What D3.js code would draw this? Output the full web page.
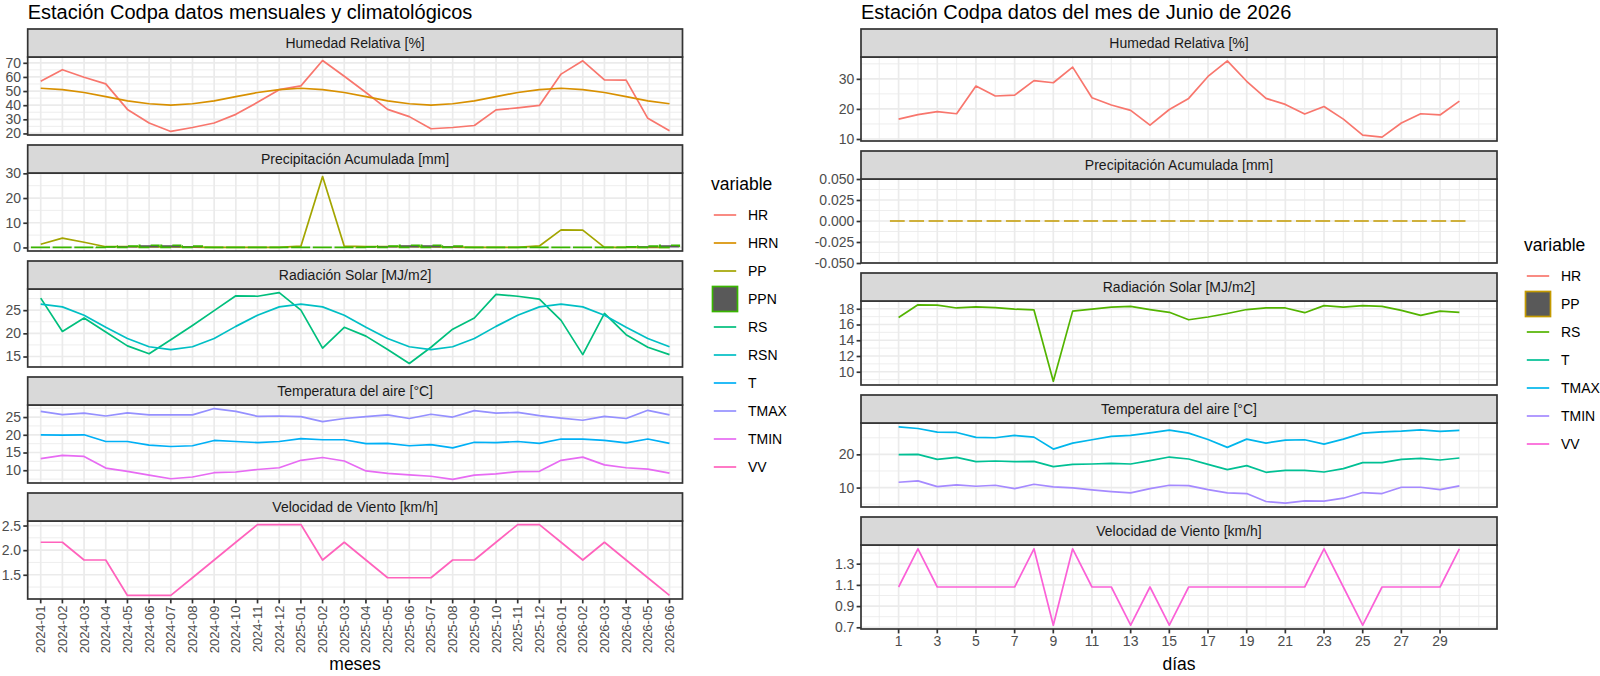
<!DOCTYPE html>
<html>
<head>
<meta charset="utf-8">
<script src="https://cdn.jsdelivr.net/npm/d3@7"></script>
<style>
  body { margin: 0; background: #fff; }
  svg { display: block; background: #fff; }
</style>
</head>
<body>
<svg id="chart" width="1600" height="676"></svg>
<script>
// ---- monthly data (left chart) ----
const meses = ["2024-01","2024-02","2024-03","2024-04","2024-05","2024-06","2024-07","2024-08","2024-09","2024-10","2024-11","2024-12",
               "2025-01","2025-02","2025-03","2025-04","2025-05","2025-06","2025-07","2025-08","2025-09","2025-10","2025-11","2025-12",
               "2026-01","2026-02","2026-03","2026-04","2026-05","2026-06"];
const hrMes   = [57, 65.1, 59.8, 55.1, 37, 27.4, 21.4, 24.2, 27.4, 33.5, 42, 51, 53.7, 71.6, 60.5, 49, 37, 31.9, 23.3, 24.2, 25.6, 36.7, 38.1, 39.8, 62, 71.4, 57.9, 57.7, 30.7, 21.9];
const hrnMes  = [52, 51, 49, 46, 43, 41, 40, 41, 43, 46, 49, 51, 52, 51, 49, 46, 43, 41, 40, 41, 43, 46, 49, 51, 52, 51, 49, 46, 43, 41];
const ppMes   = [1.3, 3.8, 2.1, 0.3, 0.3, 0.2, 0.2, 0.1, 0, 0, 0, 0, 0.5, 28.7, 0.5, 0.3, 0.3, 0.3, 0.2, 0.1, 0, 0, 0, 0.6, 7.1, 7.0, 0, 0, 0, 0];
const ppnMes  = [0, 0, 0, 0.2, 0.5, 0.9, 0.9, 0.5, 0, 0, 0, 0, 0, 0, 0, 0.2, 0.5, 0.9, 0.9, 0.5, 0, 0, 0, 0, 0, 0, 0, 0.2, 0.5, 0.9];
const rsMes   = [27.6, 20.4, 23.3, 20.3, 17.3, 15.6, 18.6, 21.7, 24.9, 28.1, 28.0, 28.8, 25.0, 16.8, 21.3, 19.4, 16.5, 13.5, 17.0, 20.9, 23.3, 28.4, 28.0, 27.4, 22.8, 15.4, 24.3, 19.7, 17.0, 15.4];
const rsnMes  = [26.3, 25.7, 23.9, 21.3, 18.9, 17.1, 16.5, 17.1, 18.9, 21.5, 23.9, 25.7, 26.3, 25.7, 23.9, 21.3, 18.9, 17.1, 16.5, 17.1, 18.9, 21.5, 23.9, 25.7, 26.3, 25.7, 23.9, 21.3, 18.9, 17.1];
const tMes    = [20.0, 19.9, 20.0, 18.1, 18.1, 17.1, 16.7, 16.9, 18.4, 18.1, 17.8, 18.1, 18.9, 18.6, 18.6, 17.5, 17.6, 16.9, 17.2, 16.3, 17.9, 17.8, 18.1, 17.6, 18.8, 18.8, 18.4, 17.7, 18.8, 17.6];
const tmaxMes = [26.6, 25.7, 26.1, 25.3, 26.2, 25.6, 25.6, 25.6, 27.4, 26.6, 25.2, 25.3, 25.1, 23.7, 24.6, 25.1, 25.6, 24.6, 25.8, 25.0, 26.8, 26.1, 26.3, 25.4, 24.7, 24.1, 25.2, 24.6, 26.9, 25.6];
const tminMes = [13.3, 14.2, 13.9, 10.6, 9.7, 8.6, 7.6, 8.1, 9.3, 9.5, 10.2, 10.7, 12.8, 13.6, 12.6, 9.8, 9.1, 8.7, 8.3, 7.4, 8.6, 9.0, 9.6, 9.7, 12.8, 13.7, 11.5, 10.7, 10.3, 9.2];
const vvMes   = [2.16, 2.16, 1.80, 1.80, 1.08, 1.08, 1.08, 1.44, 1.80, 2.16, 2.52, 2.52, 2.52, 1.80, 2.16, 1.80, 1.44, 1.44, 1.44, 1.80, 1.80, 2.16, 2.52, 2.52, 2.16, 1.80, 2.16, 1.80, 1.44, 1.08];

// ---- daily data, June 2026 (right chart) ----
const dias = [1,2,3,4,5,6,7,8,9,10,11,12,13,14,15,16,17,18,19,20,21,22,23,24,25,26,27,28,29,30];
const diasTicks = [1,3,5,7,9,11,13,15,17,19,21,23,25,27,29];
const hrDia   = [16.6, 18.1, 19.1, 18.4, 27.6, 24.3, 24.6, 29.4, 28.7, 33.9, 23.7, 21.3, 19.5, 14.6, 19.8, 23.5, 30.8, 36.0, 29.2, 23.5, 21.5, 18.3, 20.8, 16.6, 11.3, 10.6, 15.3, 18.4, 18.0, 22.6];
const ppDia   = [0,0,0,0,0,0,0,0,0,0,0,0,0,0,0,0,0,0,0,0,0,0,0,0,0,0,0,0,0,0];
const rsDia   = [16.9, 18.5, 18.45, 18.1, 18.25, 18.15, 17.95, 17.85, 8.8, 17.7, 17.95, 18.2, 18.3, 17.9, 17.55, 16.6, 16.95, 17.4, 17.9, 18.1, 18.1, 17.5, 18.4, 18.2, 18.4, 18.3, 17.8, 17.15, 17.7, 17.55];
const tDia    = [19.9, 20.0, 18.5, 19.1, 17.8, 18.0, 17.8, 17.9, 16.3, 17.0, 17.1, 17.3, 17.1, 18.1, 19.2, 18.6, 17.0, 15.4, 16.6, 14.6, 15.2, 15.2, 14.7, 15.7, 17.5, 17.5, 18.5, 18.8, 18.3, 18.9];
const tmaxDia = [28.3, 27.8, 26.7, 26.6, 25.1, 25.0, 25.7, 25.2, 21.6, 23.4, 24.4, 25.4, 25.7, 26.5, 27.3, 26.4, 24.5, 22.1, 24.6, 23.4, 24.3, 24.4, 23.1, 24.6, 26.4, 26.8, 27.0, 27.4, 26.9, 27.2];
const tminDia = [11.6, 12.0, 10.3, 10.8, 10.4, 10.7, 9.7, 11.0, 10.2, 9.9, 9.3, 8.8, 8.4, 9.7, 10.7, 10.6, 9.4, 8.4, 8.2, 5.8, 5.3, 6.0, 5.9, 6.8, 8.5, 8.2, 10.1, 10.1, 9.4, 10.5];
const vvDia   = [1.08, 1.44, 1.08, 1.08, 1.08, 1.08, 1.08, 1.44, 0.72, 1.44, 1.08, 1.08, 0.72, 1.08, 0.72, 1.08, 1.08, 1.08, 1.08, 1.08, 1.08, 1.08, 1.44, 1.08, 0.72, 1.08, 1.08, 1.08, 1.08, 1.44];

// variable names per chart (ggplot hue palette)
const varsMes = ["HR","HRN","PP","PPN","RS","RSN","T","TMAX","TMIN","VV"];
const varsDia = ["HR","PP","RS","T","TMAX","TMIN","VV"];
const colMes = d3.scaleOrdinal().domain(varsMes)
  .range(["#F8766D","#D89000","#A3A500","#39B600","#00BF7D","#00BFC4","#00B0F6","#9590FF","#E76BF3","#FF62BC"]);
const colDia = d3.scaleOrdinal().domain(varsDia)
  .range(["#F8766D","#C49A00","#53B400","#00C094","#00B6EB","#A58AFF","#FB61D7"]);

// ---- look ----
const FONT = "'Liberation Sans', Arial, Helvetica, sans-serif";
const GRID = "#EBEBEB", DARK = "#333333", AXTXT = "#4D4D4D", STRIPFILL = "#D9D9D9";
const LW = 1.7;
const STRIP_H = 28, GAP = 10, TICK = 4.4;

// ggplot prints a plain hyphen for negatives
const fmt = d3.formatLocale({decimal: ".", thousands: ",", grouping: [3], currency: ["", ""], minus: "-"}).format;

const svg = d3.select("#chart").attr("font-family", FONT);

// 5% expansion like ggplot continuous scales
function padDomain(vals) {
  const [lo, hi] = d3.extent(vals);
  if (hi === lo) return [lo - 0.05, hi + 0.05];
  const r = hi - lo;
  return [lo - r * 0.05, hi + r * 0.05];
}

// draws one facet (strip + panel) and returns the panel bottom
function facet(spec) {
  const py0 = spec.top + STRIP_H, py1 = py0 + spec.ph;
  const [px0, px1] = spec.x.range();
  let allVals = [];
  spec.lines.forEach(s => { allVals = allVals.concat(s.values); });
  if (spec.bars) allVals = allVals.concat(spec.bars.values, [0]);
  const y = d3.scaleLinear().domain(spec.yDomain || padDomain(allVals)).range([py1, py0]);
  const dom = y.domain();
  const g = svg.append("g");

  // minor y grid at midpoints between breaks
  const st = spec.yTicks[1] - spec.yTicks[0];
  const minorY = [];
  for (let v = spec.yTicks[0] - st / 2; v < dom[1]; v += st) if (v > dom[0]) minorY.push(v);
  g.selectAll(".ymin").data(minorY).join("line")
    .attr("x1", px0).attr("x2", px1).attr("y1", d => y(d)).attr("y2", d => y(d))
    .attr("stroke", GRID).attr("stroke-width", LW / 2);
  g.selectAll(".xmin").data(spec.xMinor || []).join("line")
    .attr("x1", d => spec.xpos(d)).attr("x2", d => spec.xpos(d)).attr("y1", py0).attr("y2", py1)
    .attr("stroke", GRID).attr("stroke-width", LW / 2);
  g.selectAll(".ymaj").data(spec.yTicks).join("line")
    .attr("x1", px0).attr("x2", px1).attr("y1", d => y(d)).attr("y2", d => y(d))
    .attr("stroke", GRID).attr("stroke-width", LW);
  g.selectAll(".xmaj").data(spec.xMajor).join("line")
    .attr("x1", d => spec.xpos(d)).attr("x2", d => spec.xpos(d)).attr("y1", py0).attr("y2", py1)
    .attr("stroke", GRID).attr("stroke-width", LW);

  // lines
  spec.lines.forEach(s => {
    const line = d3.line().x((d, i) => spec.xpos(spec.cats[i])).y(d => y(d));
    g.append("path").attr("d", line(s.values))
      .attr("fill", "none").attr("stroke", s.color).attr("stroke-width", LW)
      .attr("stroke-linejoin", "round");
  });

  // columns with dashed outline (geom_col, linetype dashed)
  if (spec.bars) {
    const b = spec.bars;
    g.selectAll(".bar").data(b.values).join("path")
      .attr("d", (d, i) => {
        const xc = spec.xpos(spec.cats[i]);
        const xa = xc - b.half, xb = xc + b.half;
        return `M${xa},${y(0)}H${xb}V${y(d)}H${xa}Z`;
      })
      .attr("fill", "#595959").attr("stroke", b.color).attr("stroke-width", LW)
      .attr("stroke-dasharray", "10,10");
  }

  // panel border
  g.append("rect").attr("x", px0).attr("y", py0).attr("width", px1 - px0).attr("height", py1 - py0)
    .attr("fill", "none").attr("stroke", DARK).attr("stroke-width", LW);
  // strip
  g.append("rect").attr("x", px0).attr("y", spec.top).attr("width", px1 - px0).attr("height", STRIP_H)
    .attr("fill", STRIPFILL).attr("stroke", DARK).attr("stroke-width", LW);
  g.append("text").attr("x", (px0 + px1) / 2).attr("y", spec.top + STRIP_H / 2)
    .attr("text-anchor", "middle").attr("dominant-baseline", "central")
    .attr("font-size", 14).attr("fill", "#1A1A1A").text(spec.label);

  // y axis
  const ax = g.append("g").attr("transform", `translate(${px0},0)`)
    .call(d3.axisLeft(y).tickValues(spec.yTicks).tickSize(TICK).tickPadding(2.2).tickFormat(fmt(spec.yFmt)));
  ax.attr("font-family", null).attr("font-size", null);
  ax.select(".domain").remove();
  ax.selectAll("line").attr("stroke", DARK).attr("stroke-width", LW);
  ax.selectAll("text").attr("fill", AXTXT).attr("font-size", 14);
  return py1;
}

// ---------------- left chart: monthly ----------------
const L = {x0: 27.7, x1: 682.5, top: 29, ph: 78};
const xM = d3.scalePoint().domain(meses).range([L.x0, L.x1]).padding(0.6);
const stepM = xM.step();

const leftFacets = [
  {label: "Humedad Relativa [%]", lines: [{values: hrMes, color: colMes("HR")}, {values: hrnMes, color: colMes("HRN")}],
   yTicks: [20, 30, 40, 50, 60, 70], yFmt: "d"},
  {label: "Precipitación Acumulada [mm]", lines: [{values: ppMes, color: colMes("PP")}],
   bars: {values: ppnMes, color: colMes("PPN"), half: stepM * 0.45},
   yTicks: [0, 10, 20, 30], yFmt: "d"},
  {label: "Radiación Solar [MJ/m2]", lines: [{values: rsMes, color: colMes("RS")}, {values: rsnMes, color: colMes("RSN")}],
   yTicks: [15, 20, 25], yFmt: "d"},
  {label: "Temperatura del aire [°C]", lines: [{values: tMes, color: colMes("T")}, {values: tmaxMes, color: colMes("TMAX")}, {values: tminMes, color: colMes("TMIN")}],
   yTicks: [10, 15, 20, 25], yFmt: "d"},
  {label: "Velocidad de Viento [km/h]", lines: [{values: vvMes, color: colMes("VV")}],
   yTicks: [1.5, 2.0, 2.5], yFmt: ".1f"}
];
let bottomL = 0;
leftFacets.forEach((f, k) => {
  bottomL = facet(Object.assign({}, f, {
    top: L.top + k * (STRIP_H + L.ph + GAP), ph: L.ph, x: xM, xpos: d => xM(d),
    cats: meses, xMajor: meses
  }));
});
// x axis (bottom facet only)
const axL = svg.append("g");
axL.selectAll("line").data(meses).join("line")
  .attr("x1", d => xM(d)).attr("x2", d => xM(d)).attr("y1", bottomL).attr("y2", bottomL + TICK)
  .attr("stroke", DARK).attr("stroke-width", LW);
axL.selectAll("text").data(meses).join("text")
  .attr("transform", d => `translate(${xM(d)},${bottomL + TICK + 2.2}) rotate(-90)`)
  .attr("text-anchor", "end").attr("dominant-baseline", "central")
  .attr("font-size", 13).attr("fill", AXTXT).text(d => d);
svg.append("text").attr("x", (L.x0 + L.x1) / 2).attr("y", 670).attr("text-anchor", "middle")
  .attr("font-size", 17.5).attr("fill", "#000").text("meses");
svg.append("text").attr("x", L.x0).attr("y", 18.5).attr("font-size", 20).attr("fill", "#000")
  .text("Estación Codpa datos mensuales y climatológicos");

// ---------------- right chart: daily ----------------
const R = {x0: 861, x1: 1497, top: 29, ph: 84};
const dayExt = padDomain([dias[0] - 0.45, dias[dias.length - 1] + 0.45]);
const xD = d3.scaleLinear().domain(dayExt).range([R.x0, R.x1]);
// minor breaks between the odd-day breaks
const minorD = [];
for (let v = diasTicks[0] - 1; v < dayExt[1]; v += 2) if (v > dayExt[0]) minorD.push(v);
minorD.push(diasTicks[diasTicks.length - 1] + 2);

const rightFacets = [
  {label: "Humedad Relativa [%]", lines: [{values: hrDia, color: colDia("HR")}], yTicks: [10, 20, 30], yFmt: "d"},
  {label: "Precipitación Acumulada [mm]", lines: [], bars: {values: ppDia, color: colDia("PP"), half: 0.45 * (xD(1) - xD(0))},
   yTicks: [-0.05, -0.025, 0, 0.025, 0.05], yFmt: ".3f", yDomain: padDomain(ppDia)},
  {label: "Radiación Solar [MJ/m2]", lines: [{values: rsDia, color: colDia("RS")}], yTicks: [10, 12, 14, 16, 18], yFmt: "d"},
  {label: "Temperatura del aire [°C]", lines: [{values: tDia, color: colDia("T")}, {values: tmaxDia, color: colDia("TMAX")}, {values: tminDia, color: colDia("TMIN")}],
   yTicks: [10, 20], yFmt: "d"},
  {label: "Velocidad de Viento [km/h]", lines: [{values: vvDia, color: colDia("VV")}], yTicks: [0.7, 0.9, 1.1, 1.3], yFmt: ".1f"}
];
let bottomR = 0;
rightFacets.forEach((f, k) => {
  bottomR = facet(Object.assign({}, f, {
    top: R.top + k * (STRIP_H + R.ph + GAP), ph: R.ph, x: xD, xpos: d => xD(d),
    cats: dias, xMajor: diasTicks, xMinor: minorD
  }));
});
const axR = svg.append("g");
axR.selectAll("line").data(diasTicks).join("line")
  .attr("x1", d => xD(d)).attr("x2", d => xD(d)).attr("y1", bottomR).attr("y2", bottomR + TICK)
  .attr("stroke", DARK).attr("stroke-width", LW);
axR.selectAll("text").data(diasTicks).join("text")
  .attr("x", d => xD(d)).attr("y", bottomR + TICK + 2.2).attr("dy", "0.76em")
  .attr("text-anchor", "middle").attr("font-size", 14).attr("fill", AXTXT).text(d => d);
svg.append("text").attr("x", (R.x0 + R.x1) / 2).attr("y", 670).attr("text-anchor", "middle")
  .attr("font-size", 17.5).attr("fill", "#000").text("días");
svg.append("text").attr("x", R.x0).attr("y", 18.5).attr("font-size", 20).attr("fill", "#000")
  .text("Estación Codpa datos del mes de Junio de 2026");

// ---------------- legends ----------------
function legend(x, yTitle, yFirst, names, color, rectName) {
  const g = svg.append("g");
  g.append("text").attr("x", x).attr("y", yTitle).attr("font-size", 17.5).attr("fill", "#000").text("variable");
  names.forEach((n, i) => {
    const cy = yFirst + i * 28;
    if (n === rectName) {
      g.append("rect").attr("x", x + 1.5).attr("y", cy - 12.5).attr("width", 25).attr("height", 25)
        .attr("fill", "#595959").attr("stroke", color(n)).attr("stroke-width", LW);
    } else {
      g.append("line").attr("x1", x + 2.8).attr("x2", x + 25.2).attr("y1", cy).attr("y2", cy)
        .attr("stroke", color(n)).attr("stroke-width", LW);
    }
    g.append("text").attr("x", x + 37).attr("y", cy).attr("dominant-baseline", "central")
      .attr("font-size", 14).attr("fill", "#000").text(n);
  });
}
legend(711, 190, 215, varsMes, colMes, "PPN");
legend(1524, 251, 276, varsDia, colDia, "PP");
</script>
</body>
</html>
